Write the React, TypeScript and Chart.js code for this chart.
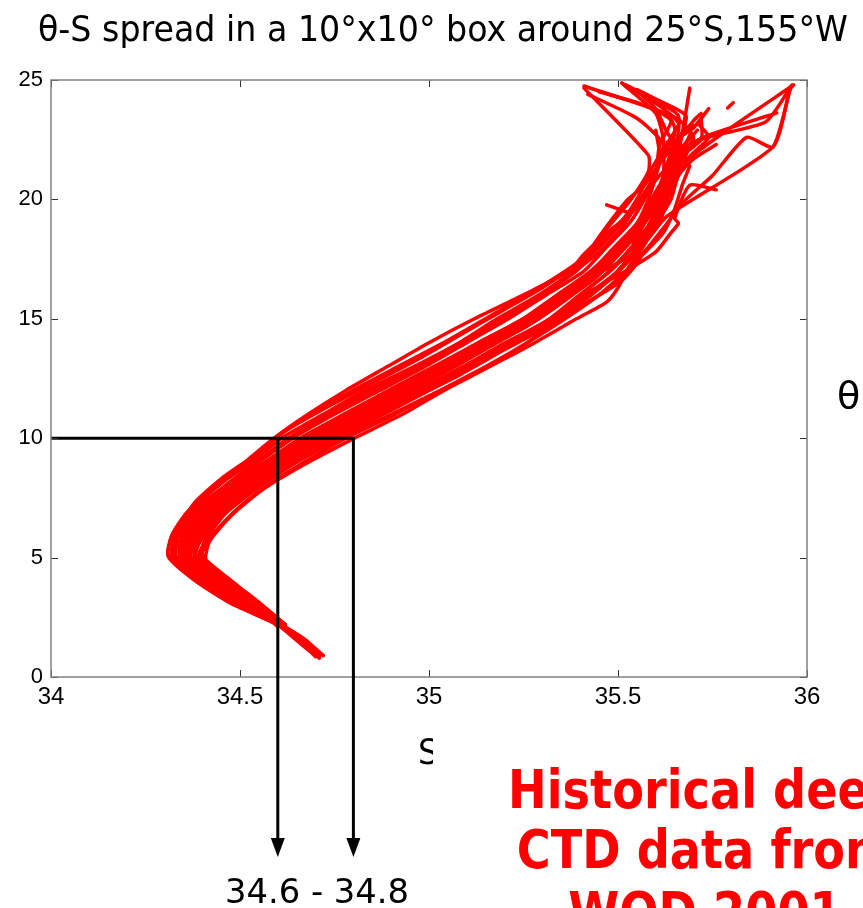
import React, { useEffect, useRef } from "react";
import { Chart, registerables } from "chart.js";

Chart.register(...registerables);

// ---- axis definitions ----
const salinityRange = [34, 36];
const thetaRange = [0, 25];
const xTickValues = [34, 34.5, 35, 35.5, 36];
const yTickValues = [0, 5, 10, 15, 20, 25];

// ---- annotation (θ = 10 box, salinity 34.6 - 34.8) ----
const boxTheta = 10;
const boxSalinity = [34.6, 34.8];

// ---- θ-S profiles: [salinity, potential temperature] ----
const p01 = [[34.71,0.8],[34.66,1.5],[34.60,2.2],[34.50,3.0],[34.41,4.0],[34.34,5.0],[34.36,6.0],[34.40,7.0],[34.48,8.0],[34.57,9.0],[34.66,10.0],[34.78,11.0],[34.90,12.0],[35.02,13.0],[35.13,14.0],[35.25,15.0],[35.34,16.0],[35.43,17.0],[35.49,18.0],[35.55,19.0],[35.58,20.0],[35.60,21.0],[35.61,22.3],[35.64,23.3],[35.56,24.0],[35.45,24.5]];
const p02 = [[34.72,0.9],[34.67,1.6],[34.61,2.2],[34.53,3.0],[34.44,4.0],[34.37,5.0],[34.39,6.0],[34.45,7.0],[34.52,8.0],[34.61,9.0],[34.71,10.0],[34.83,11.0],[34.95,12.0],[35.07,13.0],[35.18,14.0],[35.29,15.0],[35.37,16.0],[35.46,17.0],[35.55,17.8],[35.63,19.3],[35.91,22.2],[35.955,24.6],[35.965,24.8]];
const p03 = [[34.61,2.3],[34.49,3.0],[34.39,4.0],[34.32,5.0],[34.33,6.0],[34.37,7.0],[34.45,8.1],[34.53,9.0],[34.61,10.0],[34.72,11.0],[34.83,12.0],[34.96,13.0],[35.08,14.0],[35.18,15.0],[35.29,16.0],[35.38,17.0],[35.45,18.0],[35.51,19.0],[35.56,20.0],[35.61,21.0],[35.70,22.57],[35.65,23.45],[35.41,24.75]];
const p04 = [[34.60,2.1],[34.54,3.0],[34.46,4.0],[34.39,5.0],[34.42,6.0],[34.47,7.0],[34.55,8.0],[34.65,9.0],[34.76,10.0],[34.88,11.0],[35.00,12.0],[35.12,13.0],[35.23,14.0],[35.35,15.0],[35.42,16.0],[35.50,17.0],[35.56,18.0],[35.61,19.0],[35.63,20.0],[35.66,21.0],[35.70,22.4],[35.89,23.24],[35.96,24.79]];
const p05 = [[34.70,0.9],[34.66,1.4],[34.60,2.2],[34.51,3.0],[34.42,4.0],[34.35,5.0],[34.37,6.0],[34.42,7.0],[34.50,8.0],[34.59,9.0],[34.69,10.0],[34.81,11.0],[34.93,12.0],[35.05,13.0],[35.16,14.0],[35.27,15.0],[35.36,16.0],[35.44,17.0],[35.51,18.0],[35.56,19.0],[35.60,20.0],[35.62,21.0],[35.62,22.5],[35.60,23.6],[35.51,24.87]];
const p06 = [[34.61,2.2],[34.52,2.9],[34.43,3.8],[34.36,4.6],[34.34,5.3],[34.36,6.2],[34.41,7.1],[34.49,8.1],[34.58,9.1],[34.67,10.0],[34.79,11.1],[34.91,12.1],[35.03,13.1],[35.14,14.0],[35.26,15.0],[35.35,16.1],[35.45,17.0],[35.52,18.0],[35.57,19.0],[35.61,20.1],[35.63,21.0],[35.66,21.98],[35.69,24.66]];
const p07 = [[34.71,1.0],[34.65,1.7],[34.60,2.3],[34.52,3.1],[34.43,4.1],[34.36,5.1],[34.38,6.1],[34.44,7.0],[34.51,8.0],[34.60,9.0],[34.70,10.0],[34.82,11.0],[34.94,12.0],[35.06,13.0],[35.17,14.0],[35.28,15.0],[35.37,16.0],[35.45,17.0],[35.51,18.0],[35.57,19.0],[35.61,20.0],[35.64,21.0],[35.66,22.3],[35.68,23.5],[35.60,24.2],[35.55,24.6]];
const p08 = [[34.60,2.2],[34.50,3.0],[34.40,4.0],[34.33,5.0],[34.34,6.0],[34.38,7.0],[34.46,8.0],[34.55,9.0],[34.64,10.0],[34.75,11.0],[34.87,12.0],[34.99,13.0],[35.10,14.0],[35.21,15.0],[35.31,16.0],[35.41,17.0],[35.47,18.0],[35.53,19.0],[35.57,20.0],[35.60,21.0],[35.62,22.0],[35.64,22.6],[35.66,23.2],[35.58,24.3],[35.52,24.8]];
const p09 = [[34.62,2.2],[34.55,2.9],[34.47,3.9],[34.40,4.9],[34.41,5.9],[34.46,7.0],[34.54,8.0],[34.64,9.0],[34.74,10.0],[34.86,11.0],[34.98,12.0],[35.10,13.0],[35.21,14.0],[35.32,15.0],[35.40,16.0],[35.48,17.0],[35.54,18.0],[35.59,19.0],[35.62,20.0],[35.65,21.0],[35.68,21.6],[35.78,22.8],[35.96,24.75]];
const p10 = [[34.60,2.3],[34.51,3.0],[34.42,4.0],[34.35,5.0],[34.36,6.0],[34.41,7.0],[34.49,8.0],[34.58,9.0],[34.68,10.0],[34.80,11.0],[34.92,12.0],[35.04,13.0],[35.15,14.0],[35.26,15.0],[35.35,16.0],[35.44,17.0],[35.50,18.0],[35.56,19.0],[35.60,20.0],[35.63,21.0],[35.68,22.0],[35.72,22.57],[35.92,23.62]];
const p11 = [[34.60,2.4],[34.48,3.1],[34.38,4.1],[34.31,5.1],[34.32,5.9],[34.36,6.8],[34.43,7.9],[34.52,9.0],[34.60,10.1],[34.70,11.1],[34.81,12.1],[34.93,13.1],[35.05,14.1],[35.16,15.1],[35.27,16.1],[35.37,17.1],[35.43,17.8],[35.44,18.2],[35.53,19.9],[35.58,21.15],[35.58,21.86],[35.41,24.66]];
const p12 = [[34.61,2.3],[34.54,3.0],[34.45,4.0],[34.38,5.0],[34.40,6.0],[34.46,7.0],[34.53,8.0],[34.63,9.0],[34.74,10.0],[34.86,11.0],[34.98,12.0],[35.10,13.0],[35.22,14.0],[35.33,15.0],[35.41,16.0],[35.52,17.0],[35.60,17.8],[35.64,18.6],[35.66,19.0],[35.65,19.2],[35.69,20.6],[35.76,20.4]];
const p13 = [[34.62,2.2],[34.56,3.0],[34.48,4.0],[34.40,5.1],[34.43,6.0],[34.49,7.0],[34.57,8.0],[34.67,9.0],[34.78,10.0],[34.91,11.0],[35.03,12.0],[35.15,13.0],[35.26,14.0],[35.36,15.0],[35.45,16.0],[35.52,17.0],[35.58,18.0],[35.63,19.0],[35.68,20.0],[35.75,21.0],[35.84,22.6],[35.91,22.2],[35.955,24.6]];
const p14 = [[34.71,0.8],[34.66,1.5],[34.61,2.1],[34.52,2.8],[34.44,3.7],[34.37,4.6],[34.35,5.4],[34.38,6.4],[34.44,7.4],[34.52,8.4],[34.62,9.5],[34.73,10.5],[34.85,11.5],[34.97,12.5],[35.09,13.5],[35.20,14.5],[35.31,15.5],[35.40,16.5],[35.48,17.5],[35.54,18.5],[35.58,19.5],[35.61,20.5],[35.64,21.5],[35.72,22.5],[35.72,23.4]];
const p15 = [[34.60,2.2],[34.50,3.0],[34.41,4.0],[34.34,4.9],[34.35,5.8],[34.39,6.8],[34.47,7.8],[34.56,8.8],[34.66,9.9],[34.77,10.9],[34.89,11.9],[35.01,12.9],[35.12,13.9],[35.24,14.9],[35.33,15.9],[35.42,16.9],[35.49,17.9],[35.55,18.9],[35.59,19.9],[35.62,20.9],[35.65,22.0],[35.66,23.5],[35.59,24.2],[35.55,24.58]];
const p16 = [[34.61,2.3],[34.52,3.0],[34.43,4.0],[34.36,5.0],[34.38,6.0],[34.43,7.0],[34.50,8.0],[34.60,9.0],[34.70,10.0],[34.82,11.0],[34.94,12.0],[35.06,13.0],[35.17,14.0],[35.29,15.0],[35.38,16.0],[35.46,17.0],[35.52,18.0],[35.57,19.0],[35.60,20.0],[35.62,21.0],[35.64,22.0],[35.65,23.0],[35.62,23.8],[35.51,24.87]];
const p17 = [[34.60,2.2],[34.49,3.0],[34.40,4.0],[34.33,5.0],[34.34,6.1],[34.39,7.1],[34.46,8.0],[34.55,9.1],[34.63,10.0],[34.74,11.0],[34.86,12.0],[34.98,13.0],[35.09,14.0],[35.20,15.0],[35.30,16.0],[35.39,17.0],[35.43,17.75],[35.44,18.2],[35.52,19.9],[35.57,20.6],[35.61,21.5],[35.66,22.5],[35.70,23.3],[35.72,23.6]];
const p18 = [[35.47,19.77],[35.53,19.43]];
const p19 = [[35.79,23.83],[35.805,24.05]];
const p20 = [[34.70,1.0],[34.64,1.8],[34.60,2.3],[34.51,3.1],[34.42,4.1],[34.35,5.2],[34.37,6.2],[34.42,7.2],[34.50,8.2],[34.59,9.2],[34.69,10.2],[34.81,11.2],[34.93,12.2],[35.05,13.2],[35.16,14.2],[35.27,15.2],[35.36,16.2],[35.45,17.2],[35.51,18.2],[35.57,19.2],[35.60,20.2],[35.63,21.2],[35.67,22.2],[35.71,22.9]];
const p21 = [[34.61,2.2],[34.53,3.0],[34.45,3.9],[34.38,4.9],[34.40,5.9],[34.45,6.9],[34.53,7.9],[34.62,8.9],[34.72,9.9],[34.84,10.9],[34.96,11.9],[35.08,12.9],[35.19,13.9],[35.31,14.9],[35.39,15.9],[35.47,16.9],[35.53,17.9],[35.58,18.9],[35.61,19.9],[35.64,20.9],[35.67,21.9],[35.63,22.8],[35.60,23.8],[35.56,24.4]];
const p22 = [[34.60,2.3],[34.49,3.1],[34.39,4.2],[34.32,5.2],[34.34,6.3],[34.38,7.3],[34.45,8.3],[34.54,9.3],[34.62,10.3],[34.73,11.3],[34.85,12.3],[34.97,13.3],[35.08,14.3],[35.19,15.3],[35.30,16.3],[35.39,17.3],[35.46,18.3],[35.52,19.3],[35.56,20.3],[35.59,21.3],[35.62,22.3],[35.55,23.4],[35.42,24.4]];
const p23 = [[34.72,0.9],[34.67,1.4],[34.60,2.2],[34.51,2.9],[34.43,3.9],[34.36,4.9],[34.36,5.7],[34.40,6.7],[34.48,7.7],[34.57,8.7],[34.67,9.7],[34.79,10.7],[34.91,11.7],[35.03,12.7],[35.14,13.7],[35.26,14.7],[35.35,15.7],[35.44,16.7],[35.50,17.7],[35.56,18.7],[35.59,19.7],[35.62,20.7],[35.65,21.7],[35.70,22.2]];
const p24 = [[34.61,2.2],[34.53,3.0],[34.44,4.0],[34.37,5.0],[34.39,6.0],[34.44,7.0],[34.52,8.0],[34.62,9.0],[34.72,10.0],[34.85,11.0],[34.97,12.0],[35.10,13.0],[35.22,14.0],[35.34,15.0],[35.44,15.9],[35.51,16.6],[35.56,17.6],[35.54,18.2],[35.60,19.1],[35.62,20.0],[35.65,21.0],[35.68,22.1]];
const p25 = [[34.70,0.85],[34.65,1.6],[34.60,2.25],[34.50,3.05],[34.42,3.95],[34.35,4.85],[34.35,5.6],[34.39,6.5],[34.46,7.5],[34.56,8.6],[34.65,9.6],[34.76,10.6],[34.88,11.6],[35.00,12.6],[35.12,13.6],[35.23,14.6],[35.33,15.6],[35.42,16.6],[35.48,17.6],[35.55,18.6],[35.59,19.6],[35.62,20.6],[35.64,21.4],[35.63,22.4]];
const p26 = [[34.61,2.25],[34.54,2.95],[34.45,3.85],[34.38,4.75],[34.39,5.55],[34.44,6.55],[34.52,7.6],[34.62,8.7],[34.73,9.8],[34.85,10.8],[34.97,11.8],[35.09,12.8],[35.20,13.8],[35.32,14.8],[35.41,15.8],[35.49,16.8],[35.55,17.8],[35.59,18.8],[35.62,19.8],[35.65,20.8],[35.69,21.8],[35.74,22.6],[35.71,23.2]];
const p27 = [[34.60,2.35],[34.51,3.15],[34.41,4.15],[34.34,5.15],[34.35,6.05],[34.40,7.05],[34.48,8.15],[34.57,9.05],[34.67,10.1],[34.78,11.05],[34.91,12.15],[35.03,13.15],[35.15,14.15],[35.27,15.15],[35.36,16.05],[35.44,17.05],[35.51,18.15],[35.56,19.05],[35.59,20.05],[35.63,21.1],[35.67,22.0],[35.69,22.7]];
const p28 = [[34.62,2.15],[34.55,2.85],[34.46,3.75],[34.39,4.65],[34.38,5.35],[34.42,6.35],[34.50,7.45],[34.59,8.45],[34.70,9.55],[34.82,10.55],[34.94,11.55],[35.07,12.55],[35.18,13.55],[35.30,14.55],[35.39,15.55],[35.47,16.55],[35.53,17.55],[35.58,18.55],[35.61,19.55],[35.64,20.55],[35.66,21.55],[35.65,22.4],[35.70,23.0],[35.74,23.8]];
const p29 = [[34.61,2.2],[34.53,3.0],[34.45,4.0],[34.38,5.0],[34.40,6.0],[34.46,7.1],[34.55,8.1],[34.66,9.1],[34.77,10.0],[34.90,11.0],[35.03,12.0],[35.16,13.0],[35.28,14.0],[35.39,15.0],[35.47,15.7],[35.50,16.3],[35.53,17.2],[35.57,18.1],[35.60,19.0],[35.63,20.0],[35.64,21.0]];
const p30 = [[34.60,2.3],[34.49,3.0],[34.39,3.95],[34.32,4.95],[34.33,5.75],[34.37,6.7],[34.44,7.7],[34.53,8.8],[34.61,9.8],[34.71,10.8],[34.82,11.8],[34.94,12.8],[35.06,13.8],[35.17,14.8],[35.28,15.8],[35.37,16.8],[35.45,17.8],[35.51,18.8],[35.55,19.8],[35.59,20.8],[35.61,21.8],[35.60,22.9]];
const p31 = [[34.60,2.3],[34.48,3.05],[34.38,4.05],[34.31,5.05],[34.32,5.95],[34.36,6.9],[34.43,7.85],[34.51,8.95],[34.59,10.0],[34.68,11.0],[34.78,12.0],[34.89,13.0],[35.00,14.0],[35.12,15.0],[35.25,16.0],[35.37,17.0],[35.41,17.7],[35.47,18.6],[35.54,19.5],[35.58,20.5],[35.61,21.6],[35.64,22.4]];
const p32 = [[34.62,2.2],[34.56,2.95],[34.48,3.9],[34.41,4.85],[34.42,5.7],[34.48,6.8],[34.56,7.85],[34.67,8.9],[34.79,9.9],[34.93,11.0],[35.04,12.0],[35.16,13.0],[35.26,14.0],[35.35,15.0],[35.45,16.0],[35.505,16.6],[35.56,17.6],[35.62,18.6],[35.65,19.6],[35.67,20.6],[35.69,21.4]];
const p33 = [[34.71,0.9],[34.65,1.55],[34.60,2.2],[34.51,2.95],[34.42,3.95],[34.35,4.95],[34.36,5.9],[34.41,6.9],[34.48,7.85],[34.58,8.95],[34.69,10.05],[34.80,10.95],[34.90,11.85],[35.04,12.9],[35.14,13.75],[35.25,14.7],[35.34,15.7],[35.43,16.75],[35.50,17.8],[35.55,18.75],[35.60,19.75],[35.63,20.8],[35.64,21.8],[35.67,22.8],[35.70,23.1]];
const p34 = [[34.61,2.25],[34.52,3.0],[34.44,3.9],[34.37,4.9],[34.38,5.85],[34.43,6.85],[34.51,7.9],[34.60,8.9],[34.71,9.95],[34.83,10.95],[34.96,11.95],[35.09,13.0],[35.21,14.0],[35.33,15.0],[35.43,16.0],[35.50,17.0],[35.55,18.0],[35.60,19.0],[35.64,20.0],[35.66,21.0],[35.70,21.7],[35.76,22.3]];

const profiles = [p01,p02,p03,p04,p05,p06,p07,p08,p09,p10,p11,p12,p13,p14,p15,p16,p17,p18,p19,p20,p21,p22,p23,p24,p25,p26,p27,p28,p29,p30,p31,p32,p33,p34];

// ---- texts ----
const titleText = "\u03b8-S spread in a 10\u00b0x10\u00b0 box around 25\u00b0S,155\u00b0W";
const rangeText = "34.6 - 34.8";
const yLabelText = "\u03b8";
const xLabelText = "S";
const noteLines = ["Historical deep", "CTD data from", "WOD 2001"];

const CONDENSED = "'DejaVu Sans Condensed', 'DejaVu Sans', sans-serif";

function fitText(ctx: CanvasRenderingContext2D, text: string, x: number, y: number, targetW: number, align: CanvasTextAlign) {
  const w = ctx.measureText(text).width;
  const k = targetW / w;
  ctx.save();
  ctx.translate(x, y);
  ctx.scale(k, 1);
  ctx.textAlign = align;
  ctx.fillText(text, 0, 0);
  ctx.restore();
}

const framePlugin = {
  id: "framePlugin",
  afterDatasetsDraw(chart: any) {
    const { ctx, chartArea: a, scales } = chart;
    ctx.save();
    ctx.strokeStyle = "#333333";
    ctx.lineWidth = 1;
    const tl = 7;
    xTickValues.forEach((v) => {
      const px = Math.round(scales.x.getPixelForValue(v)) + 0.5;
      ctx.beginPath();
      ctx.moveTo(px, a.bottom); ctx.lineTo(px, a.bottom - tl);
      ctx.moveTo(px, a.top); ctx.lineTo(px, a.top + tl);
      ctx.stroke();
    });
    yTickValues.forEach((v) => {
      const py = Math.round(scales.y.getPixelForValue(v)) + 0.5;
      ctx.beginPath();
      ctx.moveTo(a.left, py); ctx.lineTo(a.left + tl, py);
      ctx.moveTo(a.right, py); ctx.lineTo(a.right - tl, py);
      ctx.stroke();
    });
    ctx.strokeStyle = "#808080";
    ctx.lineWidth = 1.5;
    ctx.strokeRect(a.left, a.top, a.right - a.left, a.bottom - a.top);
    ctx.restore();
  },
  afterDraw(chart: any) {
    const { ctx, chartArea: a, scales } = chart;
    ctx.save();
    const tipY = 857;
    ctx.strokeStyle = "#000";
    ctx.fillStyle = "#000";
    ctx.lineWidth = 3;
    boxSalinity.forEach((s) => {
      const px = scales.x.getPixelForValue(s);
      ctx.beginPath();
      ctx.moveTo(px, a.bottom - 1);
      ctx.lineTo(px, tipY - 16);
      ctx.stroke();
      ctx.beginPath();
      ctx.moveTo(px - 7, tipY - 19);
      ctx.lineTo(px + 7, tipY - 19);
      ctx.lineTo(px, tipY);
      ctx.closePath();
      ctx.fill();
    });

    ctx.textBaseline = "alphabetic";
    ctx.fillStyle = "#000";
    ctx.font = `36px ${CONDENSED}`;
    fitText(ctx, titleText, 443, 41, 810, "center");

    ctx.font = `33px ${CONDENSED}`;
    fitText(ctx, rangeText, 317, 903, 184, "center");

    ctx.font = `38px 'DejaVu Sans', sans-serif`;
    ctx.textAlign = "left";
    ctx.fillText(yLabelText, 837, 408);

    ctx.save();
    ctx.beginPath();
    ctx.rect(380, 700, 53, 90);
    ctx.clip();
    ctx.font = `36px ${CONDENSED}`;
    ctx.textAlign = "left";
    ctx.fillText(xLabelText, 418, 764);
    ctx.restore();

    ctx.fillStyle = "#ff0000";
    ctx.font = `bold 54px ${CONDENSED}`;
    const k = 394 / ctx.measureText(noteLines[0]).width;
    const baselines = [808, 868, 930];
    noteLines.forEach((t, i) => {
      ctx.save();
      ctx.translate(705, baselines[i]);
      ctx.scale(k, 1);
      ctx.textAlign = "center";
      ctx.fillText(t, 0, 0);
      ctx.restore();
    });
    ctx.restore();
  },
};

export default function App() {
  const ref = useRef<HTMLCanvasElement>(null);
  useEffect(() => {
    if (!ref.current) return;
    const datasets: any[] = [
      {
        data: [
          { x: salinityRange[0], y: boxTheta },
          { x: boxSalinity[1], y: boxTheta },
          { x: boxSalinity[1], y: thetaRange[0] },
        ],
        borderColor: "#000",
        borderWidth: 3,
        showLine: true,
        pointRadius: 0,
        tension: 0,
        order: -1,
      },
      {
        data: [
          { x: boxSalinity[0], y: boxTheta },
          { x: boxSalinity[0], y: thetaRange[0] },
        ],
        borderColor: "#000",
        borderWidth: 3,
        showLine: true,
        pointRadius: 0,
        tension: 0,
        order: -1,
      },
      ...profiles.map((p) => ({
        data: p.map(([s, t]) => ({ x: s, y: t })),
        borderColor: "#ff0000",
        borderWidth: 3.5,
        borderJoinStyle: "round",
        borderCapStyle: "round",
        showLine: true,
        pointRadius: 0,
        tension: 0.2,
      })),
    ];
    const chart = new Chart(ref.current, {
      type: "scatter",
      data: { datasets },
      options: {
        animation: false,
        responsive: false,
        events: [],
        layout: { padding: { top: 80, right: 56, left: 0, bottom: 0 } },
        plugins: { legend: { display: false }, tooltip: { enabled: false }, title: { display: false } },
        scales: {
          x: {
            type: "linear",
            min: salinityRange[0],
            max: salinityRange[1],
            afterFit: (s: any) => { s.height = 231; },
            afterBuildTicks: (s: any) => { s.ticks = xTickValues.map((v) => ({ value: v })); },
            grid: { display: false, drawTicks: false, tickLength: 0 },
            border: { display: false },
            ticks: {
              autoSkip: false,
              maxRotation: 0,
              padding: 6,
              color: "#000",
              font: { family: "'Liberation Sans Narrow', 'Liberation Sans', Arial, sans-serif", size: 24 },
              callback: (v: any) => String(v),
            },
          },
          y: {
            type: "linear",
            min: thetaRange[0],
            max: thetaRange[1],
            afterFit: (s: any) => { s.width = 51; },
            afterBuildTicks: (s: any) => { s.ticks = yTickValues.map((v) => ({ value: v })); },
            grid: { display: false, drawTicks: false, tickLength: 0 },
            border: { display: false },
            ticks: {
              autoSkip: false,
              padding: 8,
              color: "#000",
              font: { family: "'Liberation Sans', Arial, sans-serif", size: 22 },
              callback: (v: any) => String(v),
            },
          },
        },
      },
      plugins: [framePlugin],
    } as any);
    return () => chart.destroy();
  }, []);
  return (
    <div style={{ position: "absolute", left: 0, top: 0, width: 863, height: 908, background: "#fff", overflow: "hidden" }}>
      <canvas ref={ref} width={863} height={908} style={{ display: "block" }} />
    </div>
  );
}
